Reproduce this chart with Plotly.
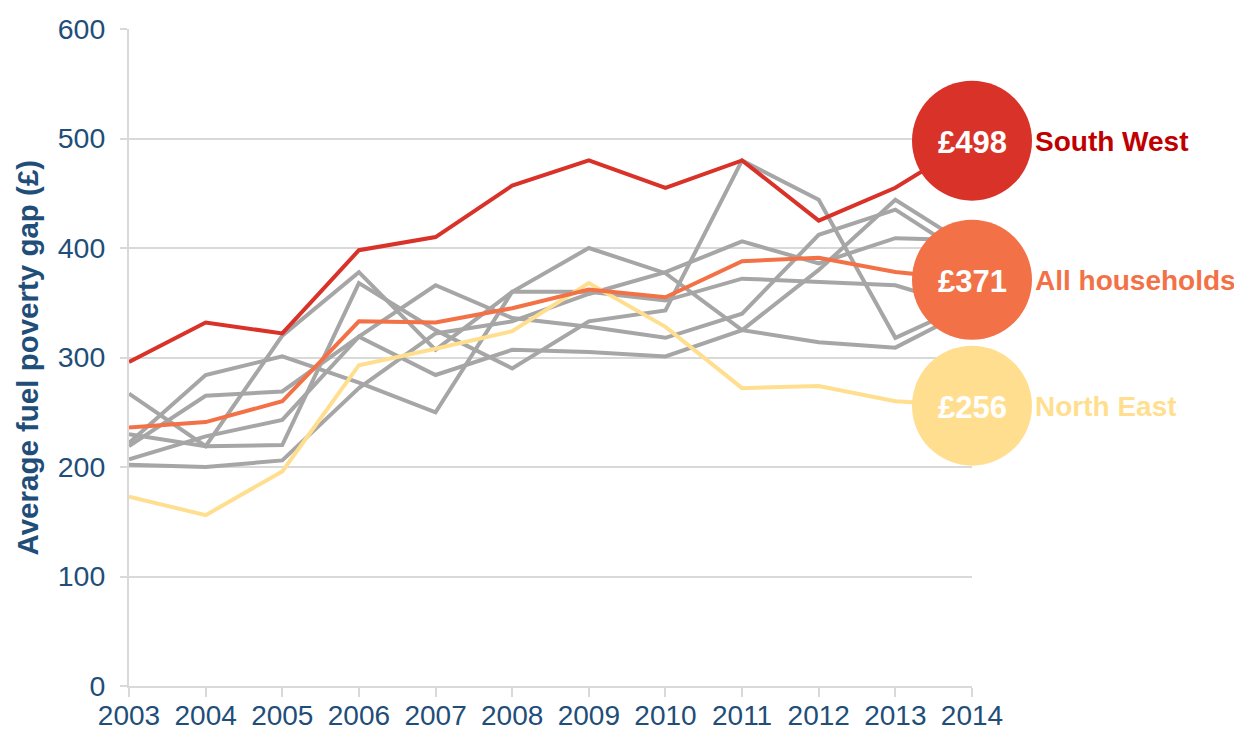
import plotly.graph_objects as go

years = [2003, 2004, 2005, 2006, 2007, 2008, 2009, 2010, 2011, 2012, 2013, 2014]

south_west = [296, 332, 322, 398, 410, 457, 480, 455, 480, 425, 455, 498]
all_households = [236, 241, 260, 333, 332, 345, 362, 355, 388, 391, 378, 371]
north_east = [173, 156, 196, 293, 308, 324, 368, 328, 272, 274, 260, 256]

region_a = [267, 219, 320, 378, 307, 360, 400, 377, 325, 314, 309, 345]
region_b = [230, 219, 220, 368, 325, 290, 333, 343, 480, 444, 318, 350]
region_c = [222, 284, 301, 277, 250, 360, 360, 352, 372, 369, 366, 345]
region_d = [219, 265, 269, 319, 366, 336, 328, 318, 340, 412, 435, 390]
region_e = [207, 228, 243, 319, 284, 307, 305, 301, 325, 380, 444, 400]
region_f = [202, 200, 206, 272, 322, 333, 358, 378, 406, 386, 409, 407]

other_regions = [region_a, region_b, region_c, region_d, region_e, region_f]

highlight_names = ["South West", "All households", "North East"]
highlight_series = [south_west, all_households, north_east]
highlight_colors = ["#D93229", "#F37146", "#FFDF8F"]
label_colors = ["#C00000", "#F37146", "#FFDF8F"]

FONT = "Arial, 'Liberation Sans', sans-serif"
TEXT_BLUE = "#1F4E79"
GRID = "#D9D9D9"

fig = go.Figure()

for vals in other_regions:
    fig.add_trace(go.Scatter(
        x=years, y=vals, mode="lines",
        line=dict(color="#A6A6A6", width=4),
        hoverinfo="skip", showlegend=False,
    ))

for name, vals, col in zip(highlight_names[::-1], highlight_series[::-1], highlight_colors[::-1]):
    fig.add_trace(go.Scatter(
        x=years, y=vals, mode="lines", name=name,
        line=dict(color=col, width=4),
        showlegend=False,
    ))

end_vals = [s[-1] for s in highlight_series]
fig.add_trace(go.Scatter(
    x=[years[-1]] * len(end_vals), y=end_vals,
    mode="markers",
    marker=dict(size=120, color=highlight_colors, line=dict(width=0)),
    cliponaxis=False, showlegend=False, hoverinfo="skip",
))

for name, v, col in zip(highlight_names, end_vals, label_colors):
    fig.add_annotation(
        x=years[-1], y=v, xref="x", yref="y",
        text="<b>£%d</b>" % v, showarrow=False,
        xanchor="center", yanchor="middle", yshift=-2,
        font=dict(color="white", size=31, family=FONT),
    )
    fig.add_annotation(
        x=years[-1], y=v, xref="x", yref="y",
        text="<b>%s</b>" % name, showarrow=False,
        xanchor="left", yanchor="middle", xshift=61, yshift=-1,
        font=dict(color=col, size=28, family=FONT),
    )

fig.add_annotation(
    xref="paper", yref="paper", x=-102 / 843, y=0.5,
    text="<b>Average fuel poverty gap (£)</b>", showarrow=False,
    textangle=-90, xanchor="center", yanchor="middle",
    font=dict(color=TEXT_BLUE, size=29.5, family=FONT),
)

# page body has an 8px default margin; size the figure so the plot lands in place
fig.update_layout(
    width=1234, height=723,
    margin=dict(l=121, r=270, t=21, b=45, autoexpand=False),
    paper_bgcolor="white", plot_bgcolor="white",
    font=dict(family=FONT, color=TEXT_BLUE),
    showlegend=False,
    xaxis=dict(
        range=[2003, 2014], tickvals=years, ticktext=[str(y) for y in years],
        showgrid=False, zeroline=False, automargin=False,
        showline=True, linecolor=GRID, linewidth=2,
        ticks="",
        minor=dict(tick0=2003, dtick=1, ticks="outside", ticklen=9,
                   tickwidth=2, tickcolor=GRID, showgrid=False),
        tickfont=dict(size=28, color=TEXT_BLUE, family=FONT),
        ticklabelstandoff=3,
    ),
    yaxis=dict(
        range=[0, 600], dtick=100, automargin=False,
        showgrid=True, gridcolor=GRID, gridwidth=1.5,
        zeroline=False,
        showline=True, linecolor=GRID, linewidth=2,
        ticks="outside", ticklen=7, tickwidth=2, tickcolor=GRID,
        tickfont=dict(size=28.5, color=TEXT_BLUE, family=FONT),
        ticklabelstandoff=9,
    ),
)

fig.write_html("out.html")
